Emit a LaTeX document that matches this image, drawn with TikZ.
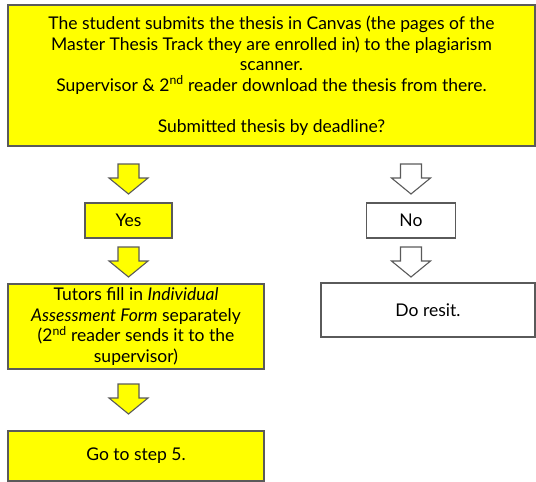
\documentclass[tikz,border=0pt]{standalone}
\usepackage{fontspec}
\setmainfont{Lato}
\usepackage{tikz}
\usetikzlibrary{positioning}
\definecolor{boxyellow}{HTML}{FFFF00}
\definecolor{boxline}{HTML}{5A5A5A}
\newcommand{\blockdown}[2]{%
  \draw[arrowline,fill=#2] (#1) +(-10.5,0) -- +(10.5,0) -- +(10.5,14) -- +(19.5,14)
    -- +(0,30) -- +(-19.5,14) -- +(-10.5,14) -- cycle;}

\begin{document}
\begin{tikzpicture}[
    x=1pt, y=-1pt,
    box/.style={draw=boxline, line width=1.1pt, fill=boxyellow, align=center,
      font=\fontsize{17.5}{20.5}\selectfont, inner sep=2pt},
    nobox/.style={box, fill=white},
    arrowline/.style={draw=boxline, line width=1.1pt, line join=miter}
]
\useasboundingbox (0,0) rectangle (536,482);

\node[box, minimum width=527pt, minimum height=141pt] (submit) at (271.5,75.5)
    {The student submits the thesis in Canvas (the pages of the\\
     Master Thesis Track they are enrolled in) to the plagiarism\\
     scanner.\\
     Supervisor \& 2\textsuperscript{nd} reader download the thesis from there.\\[20.5pt]
     Submitted thesis by deadline?};

\node[box, minimum width=87pt, minimum height=35pt] (yes) at (128.5,220.5) {Yes};
\node[nobox, minimum width=89pt, minimum height=35pt] (no) at (411,220.5) {No};

\node[box, minimum width=256pt, minimum height=85pt] (tutors) at (136,326.5)
    {Tutors fill in \textit{Individual}\\
     \textit{Assessment Form} separately\\
     (2\textsuperscript{nd} reader sends it to the\\
     supervisor)};
\node[nobox, minimum width=214pt, minimum height=54pt] (resit) at (428,310) {Do resit.};

\node[box, minimum width=256pt, minimum height=50pt] (step5) at (136,456) {Go to step 5.};

% block arrows between the boxes
\coordinate (a1) at (yes.north |- 0,164);
\coordinate (a2) at (yes.north |- 0,247);
\coordinate (a3) at (yes.north |- 0,384);
\coordinate (b1) at (no.north |- 0,164);
\coordinate (b2) at (no.north |- 0,247);

\blockdown{a1}{boxyellow}
\blockdown{a2}{boxyellow}
\blockdown{a3}{boxyellow}
\blockdown{b1}{white}
\blockdown{b2}{white}

\end{tikzpicture}
\end{document}
